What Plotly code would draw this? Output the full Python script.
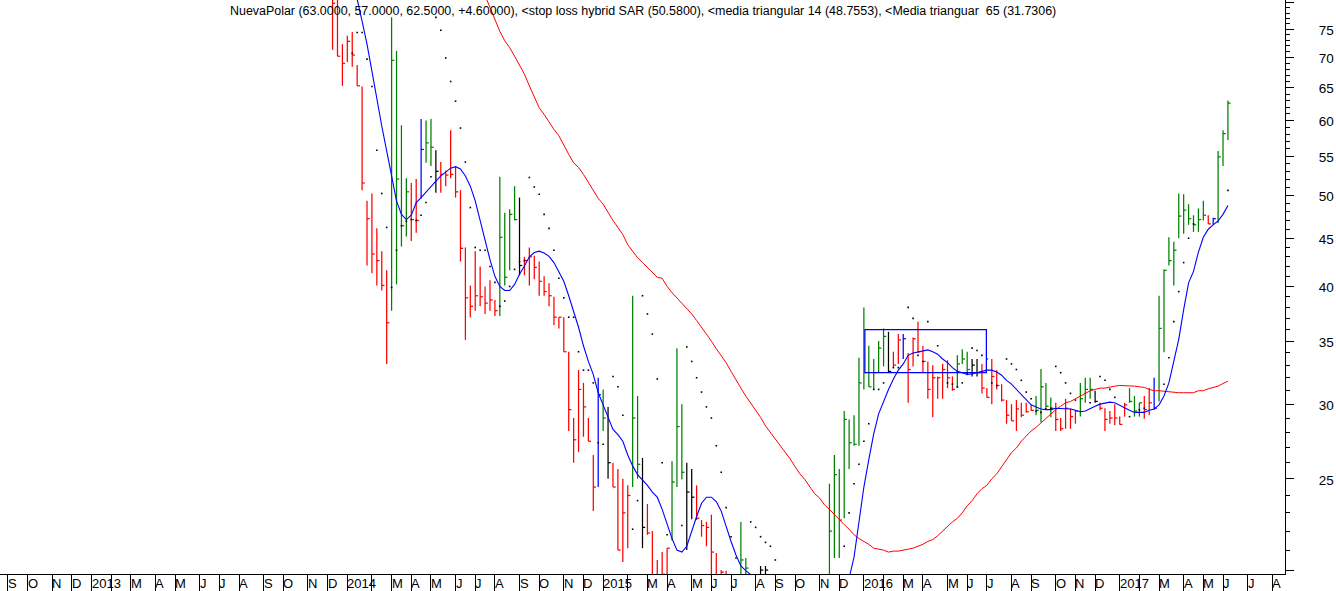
import plotly.graph_objects as go

# weekly bars, index 1 = first bar on the chart (values under about 19.8 are off the chart, estimated)
high = [
    85, 82, 72.3, 73.8, 74.5, 68.7, 65.2, 49.3, 50.2, 46.1,
    43.6, 41.6, 77.2, 71.1, 59.3, 52.1, 51.5, 52.0, 60.2, 60.0,
    60.2, 55.8, 54.2, 53.1, 58.6, 53.6, 50.6, 44.0, 40.1, 43.6,
    42.0, 40.0, 40.6, 38.7, 52.3, 47.9, 48.3, 51.1, 49.7, 43.0,
    44.0, 43.1, 42.5, 41.0, 40.3, 39.0, 37.1, 37.1, 34.1, 29.0,
    32.6, 31.6, 29.0, 26.5, 32.0, 31.1, 29.8, 26.0, 25.6, 25.0,
    24.6, 39.1, 30.6, 26.3, 23.5, 22.0, 20.5, 20.9, 21.1, 26.1,
    34.4, 30.0, 26.0, 25.6, 24.6, 22.6, 22.5, 22.9, 20.85, 20.0,
    19.97, 19.7, 19.7, 22.5, 20.6, 19.7, 19.6, 20.2, 20.2, 19.7,
    19.5, 19.4, 19.3, 19.2, 19.1, 19.0, 19.0, 18.9, 18.9, 19.2,
    19.6, 24.7, 26.5, 25.6, 29.5, 28.9, 29.2, 33.6, 38.0, 34.6,
    33.5, 35.0, 36.1, 35.8, 34.1, 35.6, 35.6, 34.0, 35.3, 36.7,
    34.6, 33.3, 33.0, 32.1, 33.1, 33.4, 32.1, 33.8, 34.3, 34.1,
    33.5, 33.5, 33.1, 31.2, 33.5, 32.6, 31.5, 30.3, 30.0, 30.3,
    30.1, 30.1, 29.95, 30.6, 32.7, 31.6, 30.5, 30.1, 29.0, 30.4,
    29.7, 29.55, 31.6, 32.0, 32.0, 31.0, 30.1, 29.7, 29.5, 30.0,
    29.1, 30.1, 31.2, 30.6, 30.1, 30.6, 31.2, 32.0, 39.1, 41.7,
    45.1, 44.6, 50.2, 50.1, 48.9, 47.6, 48.4, 49.3, 47.6, 47.3,
    55.7, 58.6, 63.0,
]
low = [
    71.3, 70.2, 65.3, 69.2, 68.4, 65.3, 50.6, 42.1, 41.3, 40.1,
    39.6, 33.1, 37.7, 40.2, 44.1, 45.2, 44.7, 45.6, 49.6, 54.1,
    53.7, 50.3, 50.3, 51.1, 52.1, 49.7, 42.5, 35.1, 37.1, 37.7,
    38.1, 37.4, 37.7, 37.2, 37.2, 40.1, 41.6, 47.0, 41.1, 41.1,
    40.1, 40.7, 39.1, 39.1, 38.1, 36.4, 36.1, 34.1, 28.1, 26.0,
    26.7, 27.7, 27.4, 23.1, 24.5, 28.1, 25.0, 24.5, 21.0, 20.4,
    21.1, 24.5, 25.0, 21.1, 21.8, 19.4, 19.3, 19.5, 19.5, 21.5,
    24.5, 24.95, 21.0, 22.65, 22.6, 21.7, 21.2, 19.5, 19.2, 19.3,
    19.2, 19.0, 19.0, 19.6, 19.4, 19.2, 19.1, 19.4, 19.4, 19.1,
    19.0, 18.9, 18.8, 18.7, 18.6, 18.5, 18.4, 18.4, 18.4, 18.5,
    18.8, 19.6, 20.6, 20.6, 22.7, 25.6, 27.1, 27.1, 31.1, 31.3,
    31.1, 32.4, 32.9, 32.4, 32.8, 33.1, 33.5, 30.1, 32.9, 34.0,
    32.4, 30.4, 29.05, 30.4, 30.4, 31.2, 31.0, 31.2, 33.1, 32.2,
    32.1, 32.1, 30.8, 30.5, 30.0, 31.1, 30.2, 28.6, 28.8, 28.1,
    29.05, 29.4, 29.5, 29.2, 28.7, 29.8, 29.05, 28.1, 28.1, 28.25,
    28.25, 28.6, 29.1, 30.1, 30.4, 30.1, 29.55, 28.1, 28.6, 28.5,
    28.55, 29.1, 30.1, 29.1, 29.1, 28.95, 29.2, 29.6, 30.2, 34.05,
    42.1, 40.1, 45.0, 45.5, 46.5, 45.7, 45.7, 47.0, 46.6, 46.5,
    46.7, 53.7, 57.2,
]
close = [
    79.9, 70.2, 69.0, 72.8, 70.4, 65.3, 51.5, 47.2, 43.3, 42.6,
    40.1, 36.6, 69.5, 52.0, 46.4, 50.4, 47.1, 47.0, 55.9, 56.8,
    56.2, 53.0, 52.6, 52.5, 52.6, 50.4, 43.9, 38.9, 38.1, 39.1,
    39.0, 38.4, 38.7, 37.7, 45.1, 40.9, 47.7, 47.1, 42.1, 42.6,
    43.0, 41.9, 40.5, 39.5, 39.1, 37.1, 37.1, 34.1, 29.6, 27.5,
    31.1, 29.8, 27.4, 24.5, 30.7, 29.0, 26.0, 24.5, 21.0, 23.0,
    24.0, 29.0, 25.9, 22.2, 21.9, 19.7, 19.6, 19.8, 21.1, 24.8,
    28.4, 25.4, 24.2, 23.9, 22.7, 22.3, 22.2, 20.9, 19.6, 19.9,
    19.5, 19.3, 19.3, 20.5, 20.1, 19.5, 19.3, 20.0, 20.0, 19.4,
    19.2, 19.1, 19.0, 18.9, 18.8, 18.7, 18.6, 18.6, 18.7, 19.0,
    19.3, 22.0, 25.25, 22.6, 28.9, 27.3, 27.2, 31.6, 32.4, 31.3,
    32.4, 34.4, 35.4, 32.5, 33.0, 35.1, 35.2, 32.65, 35.2, 34.1,
    33.3, 31.1, 32.0, 32.0, 32.65, 32.0, 31.1, 33.1, 33.5, 32.65,
    33.0, 32.4, 31.2, 30.5, 32.1, 31.4, 30.3, 29.2, 28.8, 29.65,
    29.2, 29.45, 29.55, 29.55, 31.3, 29.85, 29.7, 28.9, 28.25, 29.7,
    29.1, 29.5, 30.4, 31.1, 31.1, 30.2, 29.7, 28.9, 29.0, 29.0,
    28.55, 29.95, 30.2, 29.5, 30.1, 29.6, 30.1, 29.7, 36.1, 41.6,
    42.6, 43.7, 47.5, 48.2, 47.2, 46.5, 47.1, 47.6, 46.6, 47.2,
    54.9, 58.1, 62.6,
]
# d = down, u = up, n = neutral, i = inside week
bar_state = (
    "d" * 12 + "u" * 4 + "d" * 2 + "i" + "u" * 2 + "n" + "d" * 12 + "u" * 4 + "n" + "d" * 15
    + "i" + "u" + "n" + "d" * 4 + "u" * 2 + "n" + "d" * 5 + "u" * 3 + "n" * 2 + "d" * 9 + "u" * 4
    + "n" * 2 + "u" * 12 + "u" * 12 + "n" + "d" * 2 + "i" + "d" * 10 + "u" * 3 + "n" * 2 + "d" * 11
    + "u" * 4 + "d" * 5 + "u" * 3 + "n" + "d" * 6 + "u" * 3 + "d" * 2 + "i" + "u" * 10 + "d" + "i" + "u" * 3
)

# stop loss hybrid SAR, one per bar, None where no dot can be read
sar = [
    None, None, None, None, 70.7, 74.4, 74.4, 69.7, 65.2, 55.8,
    50.2, 46.2, 39.9, 43.7, 46.4, 46.9, 47.1, 47.0, 47.6, 49.1,
    52.3, 77.2, 74.8, 69.9, 66.0, 62.9, 58.9, 54.2, 48.5, 44.0,
    43.7, 43.7, 42.0, 40.4, 38.1, 38.6, 40.0, 41.7, 42.5, 42.6,
    52.2, 51.0, 50.1, 47.7, 46.1, 43.7, 40.8, 38.9, 37.1, 37.1,
    34.1, 32.6, 32.6, 31.6, 27.3, 27.2, None, 32.1, 31.3, 29.2,
    None, 22.1, 23.7, 39.1, 37.4, 35.6, 31.9, 26.0, 21.8, None,
    None, 22.3, 34.5, 33.3, 32.0, 30.9, 29.8, 29.0, 27.1, 25.4,
    23.3, 21.7, 20.6, None, None, 22.5, 22.2, 21.7, 21.4, 21.2,
    20.5, None, None, None, None, None, None, None, None, None,
    None, None, None, None, 21.2, 23.0, 24.7, 25.9, 27.4, 28.6,
    31.1, 31.1, 31.6, None, 32.8, 32.8, None, 38.0, 37.0, 33.8,
    33.3, 36.7, None, 34.6, None, 31.6, 31.5, 31.3, 31.6, 32.3,
    34.4, 34.2, 33.8, 33.5, 31.6, 31.4, None, 33.5, 33.1, 32.65,
    31.8, 30.9, 30.4, 29.5, 29.4, 29.7, 29.7, 32.9, 32.4, 31.6,
    30.8, 30.3, None, None, 30.1, None, 32.1, 31.8, 31.1, 30.5,
    None, None, 29.1, None, 29.6, 29.7, None, None, None, 31.5,
    33.6, 36.7, 39.5, 42.4, 45.0, 46.6, None, None, None, None,
    None, None, 50.58,
]

# media triangular 14, starts at bar 5
fast_start = 5
fast_ma = [
    84.0, 80.7, 76.5, 72.3, 67.7, 63.2, 59.2, 55.7, 52.2, 49.3,
    47.7, 47.1, 47.6, 49.1, 49.7, 50.4, 51.1, 51.75, 52.4, 52.9,
    53.4, 53.6, 53.3, 52.4, 51.1, 49.3, 46.9, 44.9, 42.7, 41.0,
    40.0, 39.6, 39.6, 40.2, 41.2, 42.05, 43.0, 43.45, 43.6, 43.4,
    43.05, 42.4, 41.5, 40.5, 39.1, 37.7, 36.2, 34.6, 33.3, 32.25,
    30.85, 29.95, 29.0, 28.2, 27.85, 27.4, 26.5, 25.8, 25.25, 24.95,
    24.6, 24.2, 23.9, 23.2, 22.35, 21.6, 21.0, 20.9, 21.2, 22.0,
    22.8, 23.55, 23.9, 23.9, 23.65, 23.1, 22.2, 21.45, 20.75, 20.2,
    19.97, 19.8, 19.6, 19.3, 19.0, 18.6, 18.2, 17.8, 17.4, 17.0,
    16.7, 16.4, 16.1, 15.9, 15.7, 15.6, 15.6, 15.8, 16.2, 16.9,
    18.0, 19.6, 20.65, 22.45, 24.5, 26.2, 27.9, 29.3, 30.2, 31.1,
    31.9, 32.6, 33.1, 33.8, 34.0, 34.1, 34.2, 34.25, 34.1, 33.9,
    33.5, 33.2, 32.8, 32.5, 32.4, 32.25, 32.3, 32.4, 32.5, 32.6,
    32.6, 32.45, 32.2, 31.8, 31.5, 31.1, 30.7, 30.3, 29.95, 29.8,
    29.65, 29.6, 29.6, 29.7, 29.7, 29.7, 29.65, 29.55, 29.45, 29.5,
    29.7, 29.85, 30.0, 30.1, 30.15, 30.1, 29.9, 29.7, 29.55, 29.4,
    29.4, 29.4, 29.55, 29.65, 29.95, 30.6, 31.6, 33.2, 35.15, 37.8,
    40.35, 41.5, 43.5, 45.1, 46.0, 46.5, 46.95, 47.7, 48.7553,
]

# media triangular 65, starts at bar 30
slow_start = 30
slow_ma = [
    85.0, 83.0, 81.4, 79.1, 76.86, 74.6, 72.9, 71.7, 70.2, 68.6,
    67.2, 65.3, 63.5, 61.9, 60.9, 59.7, 58.7, 57.8, 56.4, 55.25,
    54.1, 53.5, 52.6, 51.55, 50.7, 49.6, 48.9, 47.9, 47.0, 46.2,
    45.4, 44.3, 43.6, 42.9, 42.4, 41.9, 41.35, 40.9, 40.8, 40.0,
    39.4, 38.9, 38.4, 37.9, 37.4, 36.8, 36.2, 35.55, 35.0, 34.35,
    33.8, 33.2, 32.5, 31.8, 31.2, 30.6, 30.1, 29.55, 29.05, 28.45,
    28.0, 27.55, 27.1, 26.7, 26.25, 25.75, 25.3, 24.95, 24.5, 24.1,
    23.85, 23.45, 23.2, 22.9, 22.6, 22.35, 22.1, 21.8, 21.6, 21.45,
    21.3, 21.1, 21.05, 21.0, 20.9, 20.95, 20.95, 21.0, 21.05, 21.1,
    21.2, 21.3, 21.45, 21.55, 21.75, 22.0, 22.2, 22.5, 22.7, 23.0,
    23.4, 23.7, 24.1, 24.4, 24.6, 25.0, 25.3, 25.75, 26.25, 26.65,
    26.95, 27.4, 27.75, 28.1, 28.35, 28.65, 29.0, 29.3, 29.6, 29.85,
    30.1, 30.2, 30.4, 30.6, 30.75, 31.0, 31.1, 31.2, 31.2, 31.3,
    31.35, 31.4, 31.4, 31.4, 31.35, 31.3, 31.25, 31.1, 31.0, 31.0,
    30.95, 30.9, 30.85, 30.85, 30.85, 30.85, 30.85, 31.0, 31.0, 31.15,
    31.25, 31.35, 31.55, 31.7306,
]

# drawn box on the consolidation
box_bars = [109.2, 133.9]
box_prices = [32.4, 36.0]

# month ticks, as bar numbers
month_ticks = [
    -65, -61, -56, -52, -48, -44, -40, -35, -31, -26, -22, -18, -13, -9, -4, 0, 4, 9, 13, 17,
    21, 26, 30, 34, 39, 43, 48, 52, 56, 61, 65, 69, 74, 78, 82, 87, 91, 95, 100, 104,
    109, 113, 117, 121, 126, 130, 134, 139, 143, 148, 152, 156, 161, 165, 169, 174, 178, 182, 187, 192,
]
month_labels = [
    "S", "O", "N", "D", "2013", "", "M", "A", "M", "J", "J", "A", "S", "O", "N", "D", "2014", "", "M", "A",
    "M", "J", "J", "A", "S", "O", "N", "D", "2015", "", "M", "A", "M", "J", "J", "A", "S", "O", "N", "D",
    "2016", "", "M", "A", "M", "J", "J", "A", "S", "O", "N", "D", "2017", "", "M", "A", "M", "J", "J", "A",
]

price_major = [20, 25, 30, 35, 40, 45, 50, 55, 60, 65, 70, 75, 80]
price_labels = ["", "25", "30", "35", "40", "45", "50", "55", "60", "65", "70", "75", ""]
price_minor = [p for p in range(20, 81) if p not in price_major]

title = ("NuevaPolar (63.0000, 57.0000, 62.5000, +4.60000), <stop loss hybrid SAR (50.5800), "
         "<media triangular 14 (48.7553), <Media trianguar  65 (31.7306)")

FONT = "Liberation Sans, Arial, sans-serif"
STATE_COLORS = {"d": "#ff0000", "u": "#008000", "n": "#000000", "i": "#0000ff"}

bars = list(range(1, len(high) + 1))

fig = go.Figure()

# one trace per colour; each bar is a high-low stroke and a close tick to the right
for state, color in STATE_COLORS.items():
    xs, ys = [], []
    for b, h, l, c, s in zip(bars, high, low, close, bar_state):
        if s != state:
            continue
        xs += [b, b, None, b, b + 0.55, None]
        ys += [h, l, None, c, c, None]
    fig.add_trace(go.Scatter(x=xs, y=ys, mode="lines", line={"color": color, "width": 1.25},
                             hoverinfo="skip", showlegend=False))

fig.add_trace(go.Scatter(x=bars, y=sar, mode="markers",
                         marker={"color": "black", "size": 1.6, "symbol": "square"},
                         showlegend=False))

fig.add_trace(go.Scatter(x=list(range(slow_start, slow_start + len(slow_ma))), y=slow_ma, mode="lines",
                         line={"color": "#ff0000", "width": 1}, showlegend=False))
fig.add_trace(go.Scatter(x=list(range(fast_start, fast_start + len(fast_ma))), y=fast_ma, mode="lines",
                         line={"color": "#0000ff", "width": 1.1}, showlegend=False))

fig.add_trace(go.Scatter(
    x=[box_bars[0], box_bars[1], box_bars[1], box_bars[0], box_bars[0]],
    y=[box_prices[0], box_prices[0], box_prices[1], box_prices[1], box_prices[0]],
    mode="lines", line={"color": "#0000ff", "width": 1.25}, showlegend=False))

annotations = [{
    "text": title, "xref": "paper", "yref": "paper", "x": 229 / 1285.5, "y": 1 - 11 / 574,
    "xanchor": "left", "yanchor": "middle", "showarrow": False, "borderpad": 0,
    "font": {"family": FONT, "size": 12.45, "color": "black"},
}]
for tick, label in zip(month_ticks, month_labels):
    if label:
        annotations.append({
            "text": label, "xref": "x", "yref": "paper", "x": tick, "y": -9.5 / 574,
            "xanchor": "left", "yanchor": "middle", "xshift": -1, "showarrow": False, "borderpad": 0,
            "font": {"family": FONT, "size": 13, "color": "black"},
        })

fig.update_layout(
    width=1336, height=591,
    margin={"l": 0, "r": 50.5, "t": 0, "b": 17, "pad": 0},
    plot_bgcolor="white", paper_bgcolor="white",
    showlegend=False,
    annotations=annotations,
    xaxis={
        "range": [-66.6, 194.6], "showgrid": False, "zeroline": False,
        "showline": True, "linecolor": "black", "linewidth": 1,
        "tickmode": "array", "tickvals": month_ticks, "ticktext": [""] * len(month_ticks),
        "ticks": "outside", "ticklen": 17, "tickcolor": "black", "tickwidth": 1,
    },
    yaxis={
        "type": "log", "side": "right", "range": [1.29688, 1.90601], "showgrid": False, "zeroline": False,
        "showline": True, "linecolor": "black", "linewidth": 1,
        "tickmode": "array", "tickvals": price_major, "ticktext": price_labels,
        "ticks": "outside", "ticklen": 8, "tickcolor": "black", "tickwidth": 1,
        "tickfont": {"family": FONT, "size": 13.5, "color": "black"},
        "ticklabelstandoff": 22, "ticklabelshift": 1,
        "minor": {"tickmode": "array", "tickvals": price_minor, "ticks": "outside", "ticklen": 4,
                  "tickcolor": "black", "tickwidth": 1, "showgrid": False},
    },
)

# the page's default body margin would push the chart off the window
fig.write_html("out.html", config={"displayModeBar": False},
               post_script="document.body.style.margin = '0';")
